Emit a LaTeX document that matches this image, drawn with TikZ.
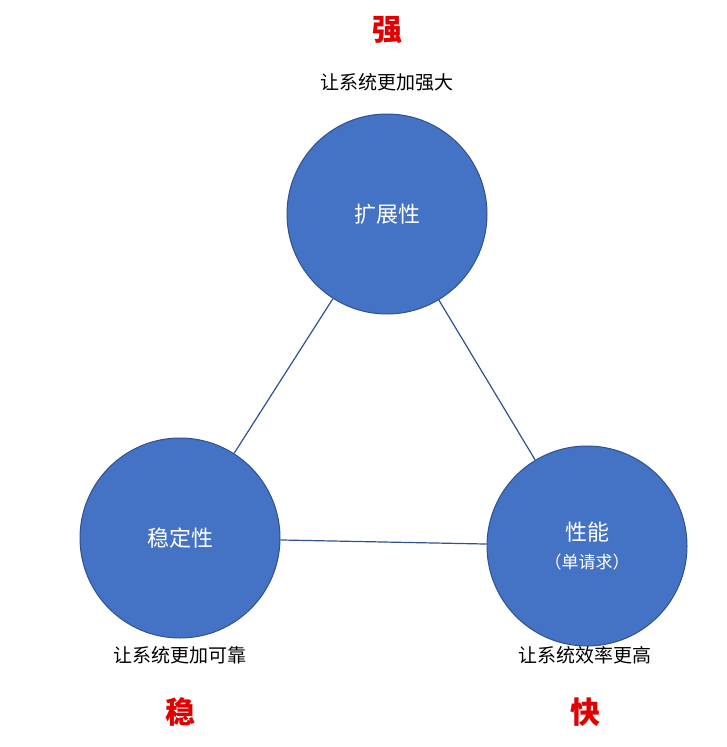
\documentclass[tikz,border=0pt]{standalone}
\usepackage{fontspec}
\newfontfamily\cjk{Noto Sans CJK SC}
\definecolor{fillb}{HTML}{4472C4}
\definecolor{edgeb}{HTML}{2F528F}
\definecolor{redc}{HTML}{E00000}
\begin{document}
\begin{tikzpicture}[x=1pt,y=-1pt,
  circ/.style={circle,fill=fillb,draw=edgeb,line width=1pt,minimum size=200pt,text=white,font=\cjk\fontsize{22}{26}\selectfont,align=center,inner sep=0pt},
  lbl/.style={font=\cjk\fontsize{19}{22}\selectfont,text=black},
  big/.style={font=\cjk\bfseries\fontsize{30}{34}\selectfont,text=redc},
  con/.style={draw=edgeb,line width=1.2pt}]
\useasboundingbox (0,0) rectangle (727,747);
\node[circ] (t) at (387,214) {扩展性};
\node[circ] (l) at (180,538) {稳定性};
\node[circ] (r) at (587,546) {性能\\[2pt]{\fontsize{17}{20}\selectfont （单请求）}};
\draw[con] (t) -- (l);
\draw[con] (t) -- (r);
\draw[con] (l) -- (r);
\node[big] (s1) at (387,30) {强};
\node[lbl] (d1) at (387,82) {让系统更加强大};
\node[lbl] (d2) at (180,655) {让系统更加可靠};
\node[big] (s2) at (180,712) {稳};
\node[lbl] (d3) at (585,655) {让系统效率更高};
\node[big] (s3) at (585,712) {快};
\end{tikzpicture}
\end{document}
